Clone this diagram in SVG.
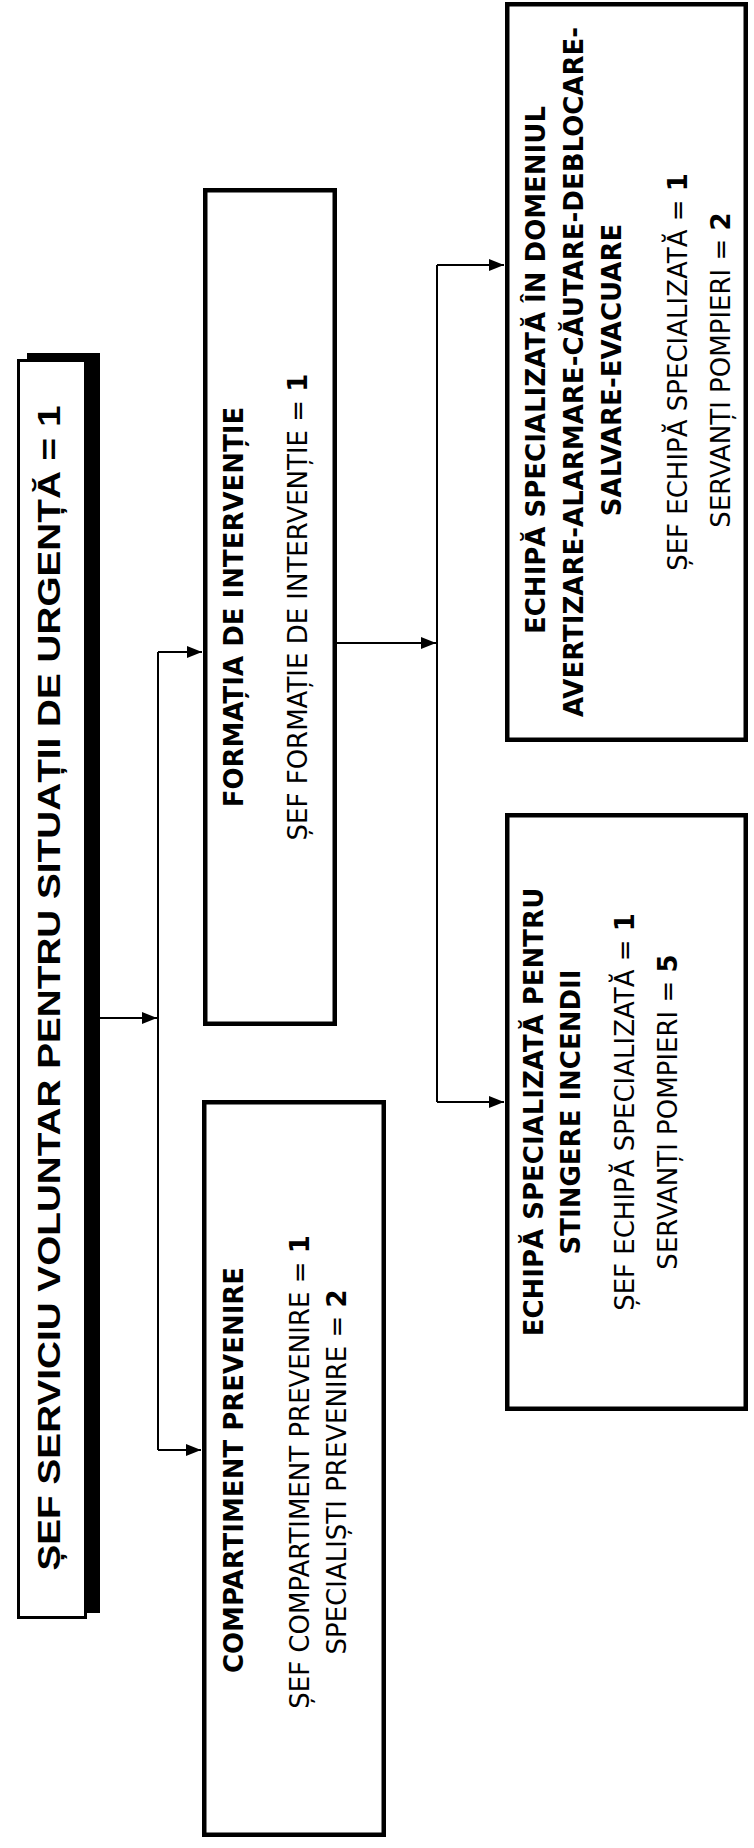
<svg xmlns="http://www.w3.org/2000/svg" width="754" height="1848" viewBox="0 0 754 1848">
<style>
.box{fill:#fff;stroke:#000;stroke-width:4.5}
.t{font-family:"DejaVu Sans","Verdana",sans-serif;font-size:26px;fill:#000;text-anchor:middle}
.b{font-weight:bold}
.main{font-family:"Liberation Sans Narrow","Liberation Sans",Arial,sans-serif;font-weight:bold;font-size:31px;fill:#000;text-anchor:middle}
.c{fill:none;stroke:#000;stroke-width:2}
</style>
<defs>
<marker id="ah" markerUnits="userSpaceOnUse" markerWidth="15" markerHeight="12" refX="15" refY="6" orient="auto">
<path d="M0,0 L15,6 L0,12 z" fill="#000"/>
</marker>
</defs>
<rect width="754" height="1848" fill="#fff"/>

<g id="connectors">
<path class="c" d="M100,1018 H157" marker-end="url(#ah)"/>
<path class="c" d="M158,652 V1450"/>
<path class="c" d="M158,652 H202" marker-end="url(#ah)"/>
<path class="c" d="M158,1450 H201" marker-end="url(#ah)"/>
<path class="c" d="M337,643 H436" marker-end="url(#ah)"/>
<path class="c" d="M437,265 V1102"/>
<path class="c" d="M437,265 H504" marker-end="url(#ah)"/>
<path class="c" d="M437,1102 H504" marker-end="url(#ah)"/>
</g>

<g id="main">
<rect x="27" y="353" width="73" height="1260" fill="#000"/>
<rect x="18.5" y="360.5" width="67" height="1257" fill="#fff" stroke="#000" stroke-width="3"/>
<text class="main" transform="translate(60,988) rotate(-90)" textLength="1165" lengthAdjust="spacingAndGlyphs">ȘEF SERVICIU VOLUNTAR PENTRU SITUAȚII DE URGENȚĂ = 1</text>
</g>

<g id="formatia">
<rect class="box" x="205.25" y="190.25" width="129.5" height="833.5"/>
<text class="t b" transform="translate(243,607) rotate(-90)">FORMAȚIA DE INTERVENȚIE</text>
<text class="t" transform="translate(307,607) rotate(-90)">ȘEF FORMAȚIE DE INTERVENȚIE = <tspan class="b">1</tspan></text>
</g>

<g id="compartiment">
<rect class="box" x="204.25" y="1102.25" width="179.5" height="732.5"/>
<text class="t b" transform="translate(243,1470) rotate(-90)">COMPARTIMENT PREVENIRE</text>
<text class="t" transform="translate(309,1472) rotate(-90)">ȘEF COMPARTIMENT PREVENIRE = <tspan class="b">1</tspan></text>
<text class="t" transform="translate(346,1472) rotate(-90)">SPECIALIȘTI PREVENIRE = <tspan class="b">2</tspan></text>
</g>

<g id="avertizare">
<rect class="box" x="507.25" y="4.25" width="238.5" height="735.5"/>
<text class="t b" transform="translate(545,370) rotate(-90)">ECHIPĂ SPECIALIZATĂ ÎN DOMENIUL</text>
<text class="t b" transform="translate(583,372) rotate(-90)">AVERTIZARE-ALARMARE-CĂUTARE-DEBLOCARE-</text>
<text class="t b" transform="translate(621,370) rotate(-90)">SALVARE-EVACUARE</text>
<text class="t" transform="translate(687,372) rotate(-90)">ȘEF ECHIPĂ SPECIALIZATĂ = <tspan class="b">1</tspan></text>
<text class="t" transform="translate(730,370) rotate(-90)">SERVANȚI POMPIERI = <tspan class="b">2</tspan></text>
</g>

<g id="stingere">
<rect class="box" x="507.25" y="815.25" width="238.5" height="593.5"/>
<text class="t b" transform="translate(543,1112) rotate(-90)">ECHIPĂ SPECIALIZATĂ PENTRU</text>
<text class="t b" transform="translate(580,1112) rotate(-90)">STINGERE INCENDII</text>
<text class="t" transform="translate(634,1112) rotate(-90)">ȘEF ECHIPĂ SPECIALIZATĂ = <tspan class="b">1</tspan></text>
<text class="t" transform="translate(677,1112) rotate(-90)">SERVANȚI POMPIERI = <tspan class="b">5</tspan></text>
</g>
</svg>
